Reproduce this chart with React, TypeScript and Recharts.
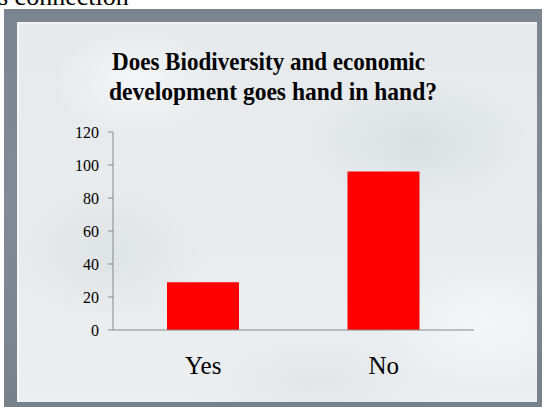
import { BarChart, Bar, XAxis, YAxis } from "recharts";

const categories = ["Yes", "No"];
const answers = [29, 96];
const yTicks = [0, 20, 40, 60, 80, 100, 120];
const titleLines = [
  "Does Biodiversity and economic",
  "development goes hand in hand?",
];

const data = categories.map((name, i) => ({ name, value: answers[i] }));

const SERIF = '"Liberation Serif", "Times New Roman", serif';
const AXIS = "#878787";

// category labels sit well below the axis line
function CategoryTick(props: any) {
  const { x, y, payload } = props;
  return (
    <text x={x} y={y + 35} textAnchor="middle" fontFamily={SERIF} fontSize={25} fill="#000">
      {payload.value}
    </text>
  );
}

export default function App() {
  return (
    <div
      style={{
        position: "absolute",
        left: 0,
        top: 0,
        width: 547,
        height: 407,
        background: "#fff",
        overflow: "hidden",
      }}
    >
      {/* slide frame */}
      <div
        style={{
          position: "absolute",
          left: 4,
          top: 9,
          width: 538,
          height: 398,
          background: "linear-gradient(180deg, #7a858f 0%, #808b95 50%, #76818b 100%)",
        }}
      />
      <div
        style={{
          position: "absolute",
          left: 17,
          top: 22,
          width: 520,
          height: 380,
          background:
            "radial-gradient(ellipse 120px 80px at 120px 60px, rgba(255,255,255,0.55), rgba(255,255,255,0) 70%)," +
            "radial-gradient(ellipse 160px 90px at 400px 120px, rgba(210,216,220,0.6), rgba(210,216,220,0) 70%)," +
            "radial-gradient(ellipse 140px 100px at 90px 230px, rgba(214,220,224,0.55), rgba(214,220,224,0) 70%)," +
            "radial-gradient(ellipse 150px 90px at 470px 300px, rgba(250,251,252,0.6), rgba(250,251,252,0) 70%)," +
            "radial-gradient(ellipse 180px 70px at 300px 360px, rgba(220,225,228,0.6), rgba(220,225,228,0) 70%)," +
            "linear-gradient(180deg, #e6eaec 0%, #e9ecee 60%, #eceff1 100%)",
          boxShadow: "inset 2px 2px 0 rgba(255,255,255,0.5)",
        }}
      />

      <div style={{ position: "absolute", left: 0, top: 0 }}>
        <BarChart
          width={547}
          height={407}
          data={data}
          margin={{ top: 132, right: 73, left: 73, bottom: 16 }}
        >
          <XAxis
            xAxisId="names"
            dataKey="name"
            height={60}
            axisLine={false}
            tickLine={false}
            tick={<CategoryTick />}
          />
          {/* baseline with boundary ticks between categories */}
          <XAxis
            xAxisId="base"
            type="number"
            domain={[0, 2]}
            ticks={[0, 1, 2]}
            allowDataOverflow
            tick={false}
            axisLine={{ stroke: AXIS }}
            tickSize={7}
            tickLine={{ stroke: AXIS }}
            height={1}
          />
          <YAxis
            width={40}
            domain={[0, 120]}
            ticks={yTicks}
            interval={0}
            tickSize={5}
            tickMargin={9}
            axisLine={{ stroke: AXIS }}
            tickLine={{ stroke: AXIS }}
            tick={{ fontFamily: SERIF, fontSize: 16, fill: "#000" }}
          />
          <Bar
            xAxisId="names"
            dataKey="value"
            fill="#ff0000"
            barSize={72}
            isAnimationActive={false}
          />
        </BarChart>
      </div>

      <svg
        width={547}
        height={407}
        style={{ position: "absolute", left: 0, top: 0, pointerEvents: "none" }}
      >
        <text x={-2} y={5} fontFamily={SERIF} fontSize={26} fill="#000">
          s connection
        </text>
        {titleLines.map((line, i) => (
          <text
            key={line}
            x={[112, 109][i]}
            y={70 + i * 29.5}
            textLength={[313, 328][i]}
            lengthAdjust="spacingAndGlyphs"
            fontFamily={SERIF}
            fontWeight="bold"
            fontSize={26}
            fill="#000"
          >
            {line}
          </text>
        ))}
      </svg>
    </div>
  );
}
